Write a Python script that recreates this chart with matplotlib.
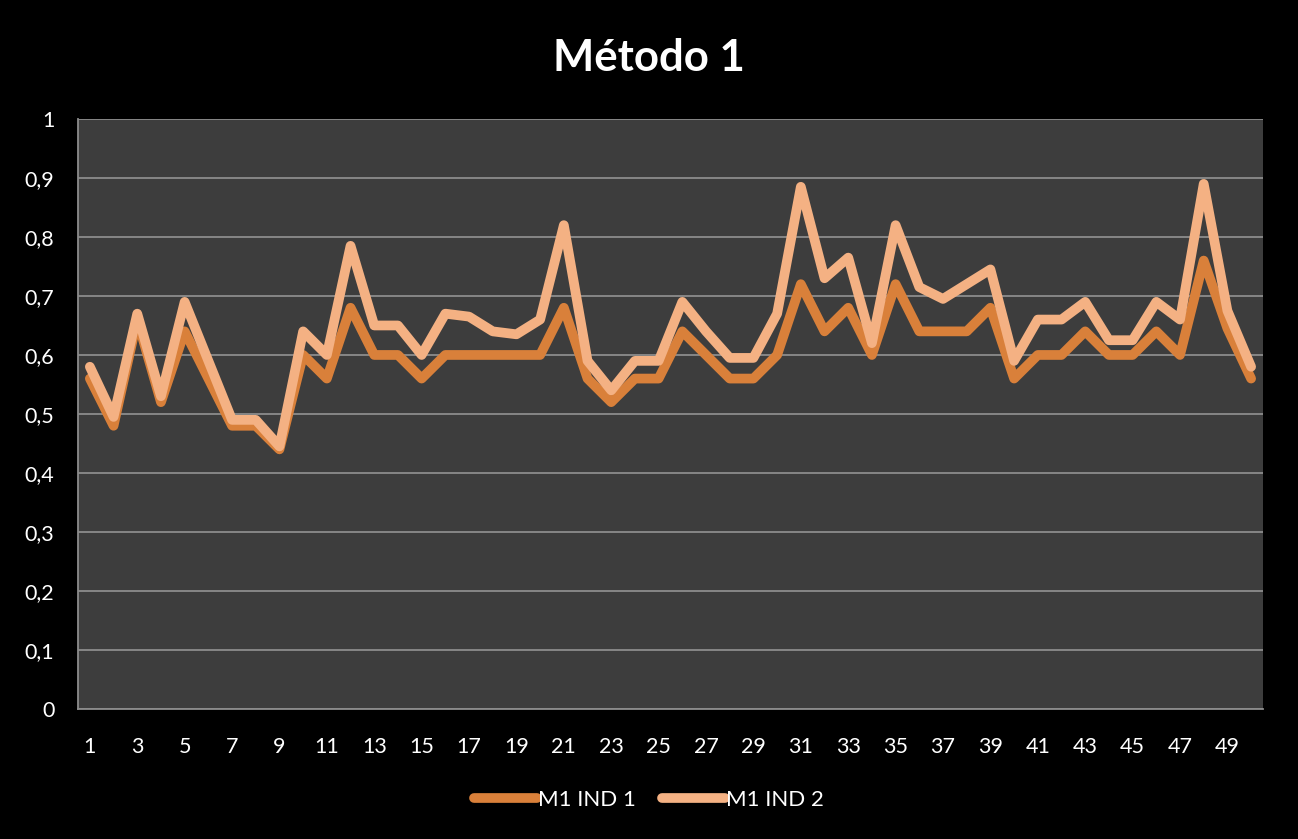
import matplotlib
matplotlib.use('Agg')
import matplotlib.pyplot as plt  # noqa
from matplotlib.ticker import FuncFormatter

plt.rcParams.update({
    'font.family': ['Lato', 'DejaVu Sans'],
    'savefig.format': 'png',
})

TITLE = 'Método 1'
runs = list(range(1, 51))
m1_ind1 = [
    0.56, 0.48, 0.66, 0.52, 0.64, 0.56, 0.48, 0.48, 0.44, 0.60,
    0.56, 0.68, 0.60, 0.60, 0.56, 0.60, 0.60, 0.60, 0.60, 0.60,
    0.68, 0.56, 0.52, 0.56, 0.56, 0.64, 0.60, 0.56, 0.56, 0.60,
    0.72, 0.64, 0.68, 0.60, 0.72, 0.64, 0.64, 0.64, 0.68, 0.56,
    0.60, 0.60, 0.64, 0.60, 0.60, 0.64, 0.60, 0.76, 0.645, 0.56,
]
m1_ind2 = [
    0.58, 0.495, 0.67, 0.53, 0.69, 0.59, 0.49, 0.49, 0.445, 0.64,
    0.60, 0.785, 0.65, 0.65, 0.60, 0.67, 0.665, 0.64, 0.635, 0.66,
    0.82, 0.59, 0.54, 0.59, 0.59, 0.69, 0.64, 0.595, 0.595, 0.67,
    0.885, 0.73, 0.765, 0.62, 0.82, 0.715, 0.695, 0.72, 0.745, 0.59,
    0.66, 0.66, 0.69, 0.625, 0.625, 0.69, 0.66, 0.89, 0.675, 0.58,
]
series = [
    ('M1 IND 1', m1_ind1, '#D9803A'),
    ('M1 IND 2', m1_ind2, '#F4B183'),
]
yticks = [i / 10 for i in range(11)]
xticks = runs[::2]


def comma_fmt(v, pos):
    if abs(v - round(v)) < 1e-9:
        return '%d' % round(v)
    return ('%.1f' % v).replace('.', ',')


def plot(out):
    fig = plt.figure(figsize=(12.98, 8.39), dpi=100, facecolor='black')
    ax = fig.add_axes([0.0601, 0.155, 0.9129, 0.7032])
    ax.set_facecolor('#3D3D3D')

    for label, vals, color in series:
        ax.plot(runs, vals, label=label, color=color, lw=7,
                solid_capstyle='round', solid_joinstyle='round')

    ax.set_xlim(0.5, 50.5)
    ax.set_ylim(0, 1)
    ax.set_yticks(yticks)
    ax.yaxis.set_major_formatter(FuncFormatter(comma_fmt))
    ax.set_xticks(xticks)
    ax.grid(axis='y', color='#8C8C8C', lw=1.3)
    ax.set_axisbelow(True)
    ax.tick_params(axis='both', length=0, colors='white', labelsize=15.5)
    ax.tick_params(axis='x', pad=20)
    ax.tick_params(axis='y', pad=17)
    for side in ('top', 'right'):
        ax.spines[side].set_visible(False)
    for side in ('left', 'bottom'):
        ax.spines[side].set_color('#8C8C8C')
        ax.spines[side].set_linewidth(1.3)

    fig.text(0.5, 0.931, TITLE, ha='center', va='center', color='white',
             fontsize=31.5, fontweight='bold')

    leg = fig.legend(loc='center', bbox_to_anchor=(0.5, 0.0465), ncol=2,
                     frameon=False, fontsize=16, handlelength=2.8,
                     handletextpad=0.05, columnspacing=1.2)
    for t in leg.get_texts():
        t.set_color('white')

    fig.savefig(out, facecolor='black')


plot('out.png')
